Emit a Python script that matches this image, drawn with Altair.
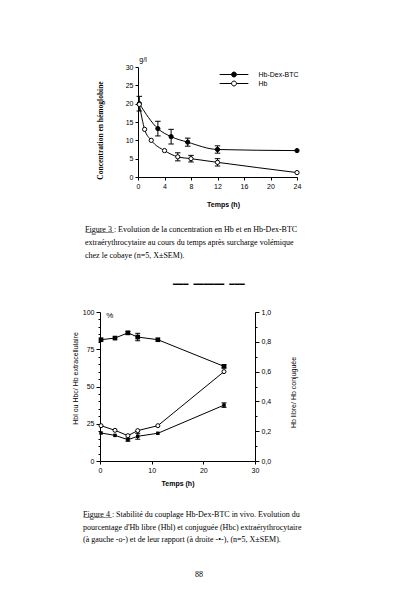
import altair as alt
import pandas as pd

# ---------------- Figure 3 data ----------------
t_dex = [0.2, 3, 5, 7.5, 12, 24]
c_dex = [20.0, 13.2, 11.0, 9.5, 7.5, 7.2]
e_dex = [2.0, 2.0, 2.0, 1.1, 1.0, 0.0]
t_hb = [0.2, 1, 2, 4, 6, 8, 12, 24]
c_hb = [19.8, 13.0, 10.0, 7.2, 5.5, 5.0, 4.0, 1.2]
e_hb = [0.0, 0.0, 0.0, 0.0, 1.1, 0.9, 1.0, 0.0]
series3 = ["Hb-Dex-BTC", "Hb"]
x3_ticks = [0, 4, 8, 12, 16, 20, 24]
y3_ticks = [0, 5, 10, 15, 20, 25, 30]
unit3 = ["g/l"]

# ---------------- Figure 4 data ----------------
t4 = [0.2, 2.9, 5.4, 7.3, 11.2, 24]
hbc = [81.4, 82.5, 86.0, 83.2, 81.4, 63.5]
e_hbc = [0.0, 0.0, 1.0, 2.5, 0.0, 1.0]
hbl = [18.8, 17.2, 14.3, 16.6, 18.6, 37.5]
e_hbl = [0.0, 0.0, 1.0, 2.0, 0.0, 1.5]
ratio = [0.237, 0.206, 0.170, 0.204, 0.237, 0.600]
series4 = ["Hbc", "Hbl"]
x4_ticks = [0, 10, 20, 30]
y4_ticks = list(range(0, 101, 5))
r4_ticks = [i / 10 for i in range(11)]
unit4 = ["%"]

cap3_text = [
    "F\u0332i\u0332g\u0332u\u0332r\u0332e\u0332 \u03323\u0332 : Evolution de la concentration en Hb et en Hb-Dex-BTC",
    "extraérythrocytaire au cours du temps après surcharge volémique",
    "chez le cobaye (n=5, X±SEM).",
]
cap4_text = [
    "F\u0332i\u0332g\u0332u\u0332r\u0332e\u0332 \u03324\u0332 : Stabilité du couplage Hb-Dex-BTC in vivo. Evolution du",
    "pourcentage d'Hb libre (Hbl) et conjuguée (Hbc) extraérythrocytaire",
    "(à gauche -o-) et de leur rapport (à droite -•-), (n=5, X±SEM).",
]
separator = "━━━\u00a0━━━━━━\u00a0━━━"
page_no = "88"

SANS = "Liberation Sans"
SERIF = "Liberation Serif"
CAP = "M-1,0L1,0"
LEG_PATH = ("M-4.1,0L-0.7,0M0.7,0L4.1,0"
            "M0.7,0A0.7,0.7,0,1,1,-0.7,0A0.7,0.7,0,1,1,0.7,0Z")

# ---------------- tables ----------------
df3 = pd.DataFrame({
    "t": t_dex + t_hb,
    "c": c_dex + c_hb,
    "e": e_dex + e_hb,
    "s": [series3[0]] * len(t_dex) + [series3[1]] * len(t_hb),
})
df3["lo"] = df3["c"] - df3["e"]
df3["hi"] = df3["c"] + df3["e"]

df4 = pd.DataFrame({
    "t": t4 + t4,
    "v": hbc + hbl,
    "e": e_hbc + e_hbl,
    "s": [series4[0]] * len(t4) + [series4[1]] * len(t4),
})
df4["lo"] = df4["v"] - df4["e"]
df4["hi"] = df4["v"] + df4["e"]
df4r = pd.DataFrame({"t": t4, "r": ratio})

# ---------------- Figure 3 chart ----------------
ax_x3 = alt.Axis(values=x3_ticks, title="Temps  (h)", titlePadding=11, titleX=85,
                 titleFont=SANS, titleFontWeight="bold", titleFontSize=7)
ax_y3 = alt.Axis(values=y3_ticks, title="Concentration en hémoglobine", titlePadding=21,
                 titleY=63, titleFont=SERIF, titleFontWeight="bold", titleFontSize=7.5)
sx3 = alt.Scale(domain=[0, 24], nice=False)
sy3 = alt.Scale(domain=[0, 30], nice=False)


def X3(f):
    return alt.X(f, scale=sx3, axis=ax_x3)


def Y3(f):
    return alt.Y(f, scale=sy3, axis=ax_y3)


leg3 = alt.Legend(title=None, orient="none", legendX=164, legendY=3.5, symbolType=LEG_PATH,
                  symbolSize=49, symbolStrokeColor="black", symbolStrokeWidth=1,
                  labelFont=SANS, labelFontSize=7, labelColor="black", labelOffset=20.5,
                  rowPadding=-1, padding=0)

base3 = alt.Chart(df3)
line3 = base3.mark_line(color="black", strokeWidth=1, interpolate="monotone").encode(
    x=X3("t:Q"), y=Y3("c:Q"), detail="s:N")
err3 = base3.transform_filter("datum.e > 0").mark_rule(color="black", strokeWidth=1).encode(
    x=X3("t:Q"), y=Y3("lo:Q"), y2="hi:Q")
caps3 = base3.transform_filter("datum.e > 0").transform_fold(["lo", "hi"], as_=["k", "c"]).mark_point(
    shape=CAP, size=30, color="black", strokeWidth=1, filled=False, opacity=1).encode(
    x=X3("t:Q"), y=Y3("c:Q"))
pts3 = base3.mark_point(filled=True, size=18, stroke="black", strokeWidth=1, opacity=1).encode(
    x=X3("t:Q"), y=Y3("c:Q"),
    fill=alt.Fill("s:N", scale=alt.Scale(domain=series3, range=["black", "white"]), legend=leg3))
u3 = alt.Chart(pd.DataFrame({"u": unit3})).mark_text(
    align="left", baseline="middle", font=SANS, fontSize=7, color="black").encode(
    x=alt.XDatum(0.2, type="quantitative", scale=sx3, axis=ax_x3),
    y=alt.YDatum(32, type="quantitative", scale=sy3, axis=ax_y3),
    text="u:N")

fig3 = alt.layer(line3, err3, caps3, pts3, u3).properties(
    width=159, height=110,
    title=alt.TitleParams(text=cap3_text, orient="bottom", anchor="start", frame="group",
                          dx=-53, offset=19, font=SERIF, fontSize=8, fontWeight="normal",
                          lineHeight=13, color="black"))

# ---------------- Figure 4 chart ----------------
ax_x4 = alt.Axis(values=x4_ticks, title="Temps  (h)", titlePadding=6,
                 titleFont=SANS, titleFontWeight="bold", titleFontSize=7)
ax_y4 = alt.Axis(values=y4_ticks, title="Hbl   ou   Hbc/   Hb   extracellulaire",
                 labelExpr="datum.value % 25 === 0 ? datum.label : ''",
                 tickSize={"condition": {"test": "datum.value % 25 === 0", "value": 4}, "value": 2},
                 titlePadding=4, titleY=66, titleFont=SANS, titleFontWeight="normal", titleFontSize=7)
ax_r4 = alt.Axis(values=r4_ticks, orient="right", title="Hb   libre/   Hb   conjuguée",
                 labelExpr="round(datum.value * 10) % 2 === 0 ? replace(format(datum.value, '.1f'), '.', ',') : ''",
                 tickSize={"condition": {"test": "round(datum.value * 10) % 2 === 0", "value": 4}, "value": 2},
                 titlePadding=26, titleY=80, titleAngle=270, titleFont=SANS,
                 titleFontWeight="normal", titleFontSize=7)
sx4 = alt.Scale(domain=[0, 30], nice=False)
sy4 = alt.Scale(domain=[0, 100], nice=False)
sr4 = alt.Scale(domain=[0, 1], nice=False)


def X4(f):
    return alt.X(f, scale=sx4, axis=ax_x4)


def Y4(f):
    return alt.Y(f, scale=sy4, axis=ax_y4)


base4 = alt.Chart(df4)
line4 = base4.mark_line(color="black", strokeWidth=1).encode(x=X4("t:Q"), y=Y4("v:Q"), detail="s:N")
err4 = base4.transform_filter("datum.e > 0").mark_rule(color="black", strokeWidth=1).encode(
    x=X4("t:Q"), y=Y4("lo:Q"), y2="hi:Q")
caps4 = base4.transform_filter("datum.e > 0").transform_fold(["lo", "hi"], as_=["k", "v"]).mark_point(
    shape=CAP, size=25, color="black", strokeWidth=1, filled=False, opacity=1).encode(
    x=X4("t:Q"), y=Y4("v:Q"))
pts4 = base4.mark_point(shape="square", filled=True, color="black", opacity=1).encode(
    x=X4("t:Q"), y=Y4("v:Q"),
    size=alt.Size("s:N", scale=alt.Scale(domain=series4, range=[22, 12]), legend=None))
u4 = alt.Chart(pd.DataFrame({"u": unit4})).mark_text(
    align="left", baseline="middle", font=SANS, fontSize=8, color="black").encode(
    x=alt.XDatum(1.2, type="quantitative", scale=sx4, axis=ax_x4),
    y=alt.YDatum(97.5, type="quantitative", scale=sy4, axis=ax_y4),
    text="u:N")
left4 = alt.layer(line4, err4, caps4, pts4, u4)

base4r = alt.Chart(df4r)
rline = base4r.mark_line(color="black", strokeWidth=1).encode(
    x=X4("t:Q"), y=alt.Y("r:Q", scale=sr4, axis=ax_r4))
rpts = base4r.mark_point(filled=True, fill="white", stroke="black", strokeWidth=1, size=16, opacity=1).encode(
    x=X4("t:Q"), y=alt.Y("r:Q", scale=sr4, axis=ax_r4))
right4 = alt.layer(rline, rpts)

fig4 = alt.layer(left4, right4).resolve_scale(y="independent").properties(
    width=155, height=149,
    title=alt.TitleParams(text=cap4_text, orient="bottom", anchor="start", frame="group",
                          dx=-17, offset=25, font=SERIF, fontSize=8, fontWeight="normal",
                          lineHeight=12.5, color="black"))


# ---------------- page layout ----------------
def spacer(w):
    return alt.Chart(pd.DataFrame({"v": [0]})).mark_point(opacity=0, size=1).encode(
        x=alt.X("v:Q", axis=None), y=alt.Y("v:Q", axis=None)).properties(width=w, height=10)


row1 = alt.hconcat(spacer(19), fig3, spacing=0)
row2 = alt.hconcat(spacer(5), fig4, spacing=0,
                   title=alt.TitleParams(text=separator, orient="top", anchor="start", frame="group",
                                         dx=107, offset=20, font="DejaVu Sans Mono", fontSize=8.5,
                                         fontWeight="normal", color="black"))

chart = alt.vconcat(
    row1, row2, spacing=19,
    title=alt.TitleParams(text=page_no, orient="bottom", anchor="start", frame="group",
                          dx=129, offset=27, font=SERIF, fontSize=8, fontWeight="normal",
                          color="black"),
).properties(
    padding={"left": 58, "top": 47, "right": 0, "bottom": 0},
    background="white",
).configure_view(stroke="transparent", strokeWidth=0).configure_axis(
    domainColor="black", domainWidth=1, tickColor="black", tickWidth=1, tickSize=3,
    labelColor="black", labelFont=SANS, labelFontSize=7, labelPadding=2,
    labelOverlap=False, labelFlush=False, labelBound=False,
    titleColor="black", grid=False,
)

chart.save("out.html", embed_options={"renderer": "svg", "actions": False})
